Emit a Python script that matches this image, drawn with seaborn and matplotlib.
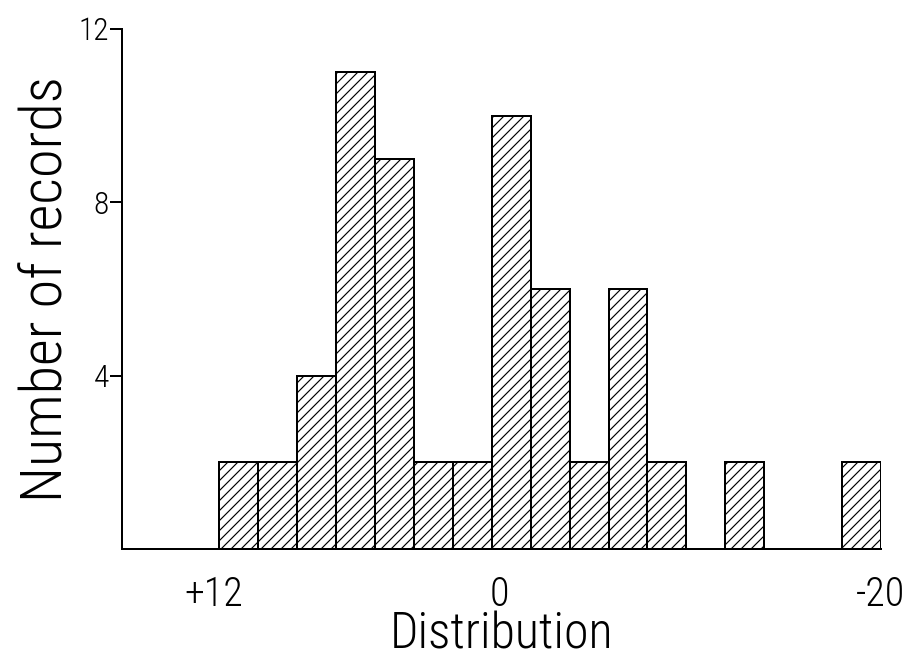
import matplotlib
matplotlib.use("Agg")
import matplotlib.pyplot as plt
import matplotlib.font_manager as fm
import seaborn as sns

# ---- data ----
bin_edges = [-20, -18, -16, -14, -12, -10, -8, -6, -4, -2, 0, 2, 4, 6, 8, 10, 12, 14]
bin_centers = [13, 11, 9, 7, 5, 3, 1, -1, -3, -5, -7, -9, -11, -13, -15, -17, -19]
counts = [2, 2, 4, 11, 9, 2, 2, 10, 6, 2, 6, 2, 0, 2, 0, 0, 2]
xtick_pos = [14.3, -0.4, -20]
xtick_labels = ["+12", "0", "-20"]
ytick_pos = [4, 8, 12]
ytick_labels = ["4", "8", "12"]

sns.set_style("ticks")

fonts = fm.fontManager.ttflist
names = {f.name for f in fonts}
family = "DejaVu Sans"
for cand in ["Roboto Condensed", "Liberation Sans Narrow", "Open Sans Condensed"]:
    if cand in names:
        family = cand
        break
weights = sorted({f.weight for f in fonts if f.name == family and f.style == "normal"},
                 key=lambda w: fm.weight_dict.get(w, w) if isinstance(w, str) else w)
light = weights[0] if weights else "normal"
plt.rcParams["font.family"] = [family, "DejaVu Sans"]
plt.rcParams["font.weight"] = light
plt.rcParams["axes.labelweight"] = light
plt.rcParams["hatch.linewidth"] = 0.7

DPI = 120
fig = plt.figure(figsize=(908 / DPI, 666 / DPI), dpi=DPI)
ax = fig.add_axes([122 / 908, 1 - 549 / 666, (881 - 122) / 908, (549 - 29) / 666])

sns.histplot(x=bin_centers, weights=counts, bins=bin_edges, ax=ax,
             color="white", edgecolor="black", linewidth=1.2,
             hatch="////", alpha=1, fill=True)

ax.set_xlim(19, -20)
ax.set_ylim(0, 12)
for s in ["top", "right"]:
    ax.spines[s].set_visible(False)
for s in ["left", "bottom"]:
    ax.spines[s].set_linewidth(1.2)
    ax.spines[s].set_color("black")

ax.set_xticks(xtick_pos, xtick_labels)
ax.set_yticks(ytick_pos, ytick_labels)
ax.tick_params(axis="x", length=0, pad=16, labelsize=24, colors="black")
ax.tick_params(axis="y", direction="out", length=7, width=1.2, pad=1,
               labelsize=19, colors="black")

ax.set_xlabel("Distribution", fontsize=30, labelpad=-2, color="black")
ax.set_ylabel("Number of records", fontsize=35, labelpad=2, color="black")

fig.savefig("out.png", dpi=DPI, facecolor="white")
